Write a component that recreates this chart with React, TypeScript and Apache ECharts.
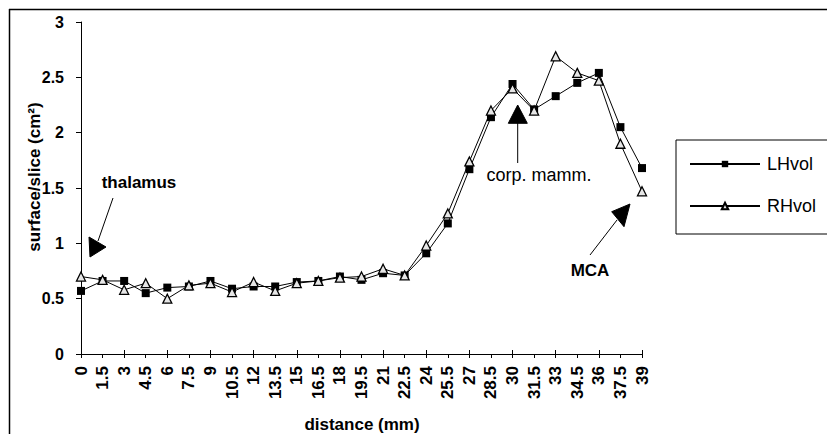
import React, { useEffect, useRef } from "react";
import * as echarts from "echarts";

const distances = ["0", "1.5", "3", "4.5", "6", "7.5", "9", "10.5", "12", "13.5", "15", "16.5", "18", "19.5", "21", "22.5", "24", "25.5", "27", "28.5", "30", "31.5", "33", "34.5", "36", "37.5", "39"];
const lhVol = [0.57, 0.66, 0.66, 0.55, 0.6, 0.61, 0.66, 0.59, 0.61, 0.61, 0.65, 0.66, 0.7, 0.67, 0.73, 0.71, 0.91, 1.18, 1.67, 2.14, 2.44, 2.21, 2.33, 2.45, 2.54, 2.05, 1.68];
const rhVol = [0.7, 0.67, 0.58, 0.64, 0.5, 0.62, 0.64, 0.56, 0.65, 0.57, 0.64, 0.66, 0.69, 0.7, 0.77, 0.71, 0.98, 1.27, 1.74, 2.2, 2.4, 2.2, 2.69, 2.54, 2.47, 1.9, 1.47];
const seriesNames = ["LHvol", "RHvol"];
const yTitle = "surface/slice (cm²)";
const xTitle = "distance (mm)";

const FONT = "'Liberation Sans', Arial, Helvetica, sans-serif";

export default function App() {
  const ref = useRef<HTMLDivElement>(null);
  useEffect(() => {
    if (!ref.current) return;
    const chart = echarts.init(ref.current, undefined, { renderer: "svg" });
    const annText = (text: string, x: number, y: number, bold = false, size = 18) => ({
      type: "text",
      x,
      y,
      style: {
        text,
        fill: "#000",
        font: `${bold ? "bold " : ""}${size}px ${FONT}`,
        textAlign: "center",
        textVerticalAlign: "middle",
      },
      z: 10,
    });
    const line = (x1: number, y1: number, x2: number, y2: number, w = 1) => ({
      type: "line",
      shape: { x1, y1, x2, y2 },
      style: { stroke: "#000", lineWidth: w },
      z: 10,
    });
    const tri = (pts: number[][]) => ({
      type: "polygon",
      shape: { points: pts },
      style: { fill: "#000", stroke: "#000", lineWidth: 1 },
      z: 10,
    });
    chart.setOption({
      animation: false,
      backgroundColor: "#fff",
      grid: { left: 81, right: 185, top: 22, bottom: 80, containLabel: false },
      xAxis: [
        {
          type: "category",
          data: distances,
          boundaryGap: false,
          axisLine: { show: true, lineStyle: { color: "#000", width: 1 } },
          axisTick: { show: true, inside: false, length: 4, lineStyle: { color: "#000" }, alignWithLabel: true },
          axisLabel: {
            interval: 0,
            rotate: 90,
            margin: 12,
            color: "#000",
            fontSize: 17,
            fontWeight: "bold",
            fontFamily: FONT,
          },
          splitLine: { show: false },
        },
        {
          type: "category",
          data: distances,
          boundaryGap: false,
          position: "bottom",
          axisLine: { show: false },
          axisTick: { show: true, inside: true, length: 4, lineStyle: { color: "#000" } },
          axisLabel: { show: false },
          splitLine: { show: false },
        },
      ],
      yAxis: {
        type: "value",
        min: 0,
        max: 3,
        interval: 0.5,
        axisLine: { show: true, lineStyle: { color: "#000", width: 1 } },
        axisTick: { show: true, inside: false, length: 5, lineStyle: { color: "#000" } },
        axisLabel: {
          margin: 17,
          color: "#000",
          fontSize: 16,
          fontWeight: "bold",
          fontFamily: FONT,
        },
        splitLine: { show: false },
      },
      legend: {
        orient: "vertical",
        left: 676,
        top: 140,
        padding: [14, 30, 18, 13],
        itemGap: 22,
        itemWidth: 70,
        itemHeight: 8,
        borderColor: "#000",
        borderWidth: 1,
        borderRadius: 0,
        data: seriesNames,
        textStyle: { fontSize: 18, lineHeight: 20, color: "#000", fontFamily: FONT, padding: [0, 0, 0, 2] },
      },
      series: [
        {
          name: seriesNames[0],
          type: "line",
          data: lhVol,
          symbol: "rect",
          symbolSize: 8,
          lineStyle: { color: "#000", width: 1 },
          itemStyle: { color: "#000", borderColor: "#000", borderWidth: 0 },
          z: 3,
        },
        {
          name: seriesNames[1],
          type: "line",
          data: rhVol,
          symbol: "triangle",
          symbolSize: 9,
          lineStyle: { color: "#000", width: 1 },
          itemStyle: { color: "#e6e6e6", borderColor: "#000", borderWidth: 1.3 },
          z: 4,
        },
      ],
      graphic: [
        line(9.5, 9, 9.5, 434, 1.5),
        line(9, 9.5, 827, 9.5, 1.5),
        {
          type: "text",
          x: 34,
          y: 177,
          rotation: Math.PI / 2,
          style: {
            text: yTitle,
            fill: "#000",
            font: `bold 17px ${FONT}`,
            textAlign: "center",
            textVerticalAlign: "middle",
          },
        },
        {
          type: "text",
          x: 362,
          y: 424,
          style: {
            text: xTitle,
            fill: "#000",
            font: `bold 17px ${FONT}`,
            textAlign: "center",
            textVerticalAlign: "middle",
          },
        },
        annText("thalamus", 139, 182, true, 17),
        line(113, 198, 98, 241),
        tri([[90, 257], [89, 237], [106, 247]]),
        annText("corp. mamm.", 539, 175),
        line(517.7, 123, 517.7, 163),
        tri([[517.7, 105], [508.3, 123.3], [527.3, 123.3]]),
        annText("MCA", 590, 270, true, 17),
        line(617, 220, 590, 255),
        tri([[630, 204], [611.7, 211.7], [624, 226.7]]),
      ],
    });
    return () => chart.dispose();
  }, []);
  return (
    <div
      ref={ref}
      style={{ position: "fixed", left: 0, top: 0, width: 827, height: 434, background: "#fff" }}
    />
  );
}
